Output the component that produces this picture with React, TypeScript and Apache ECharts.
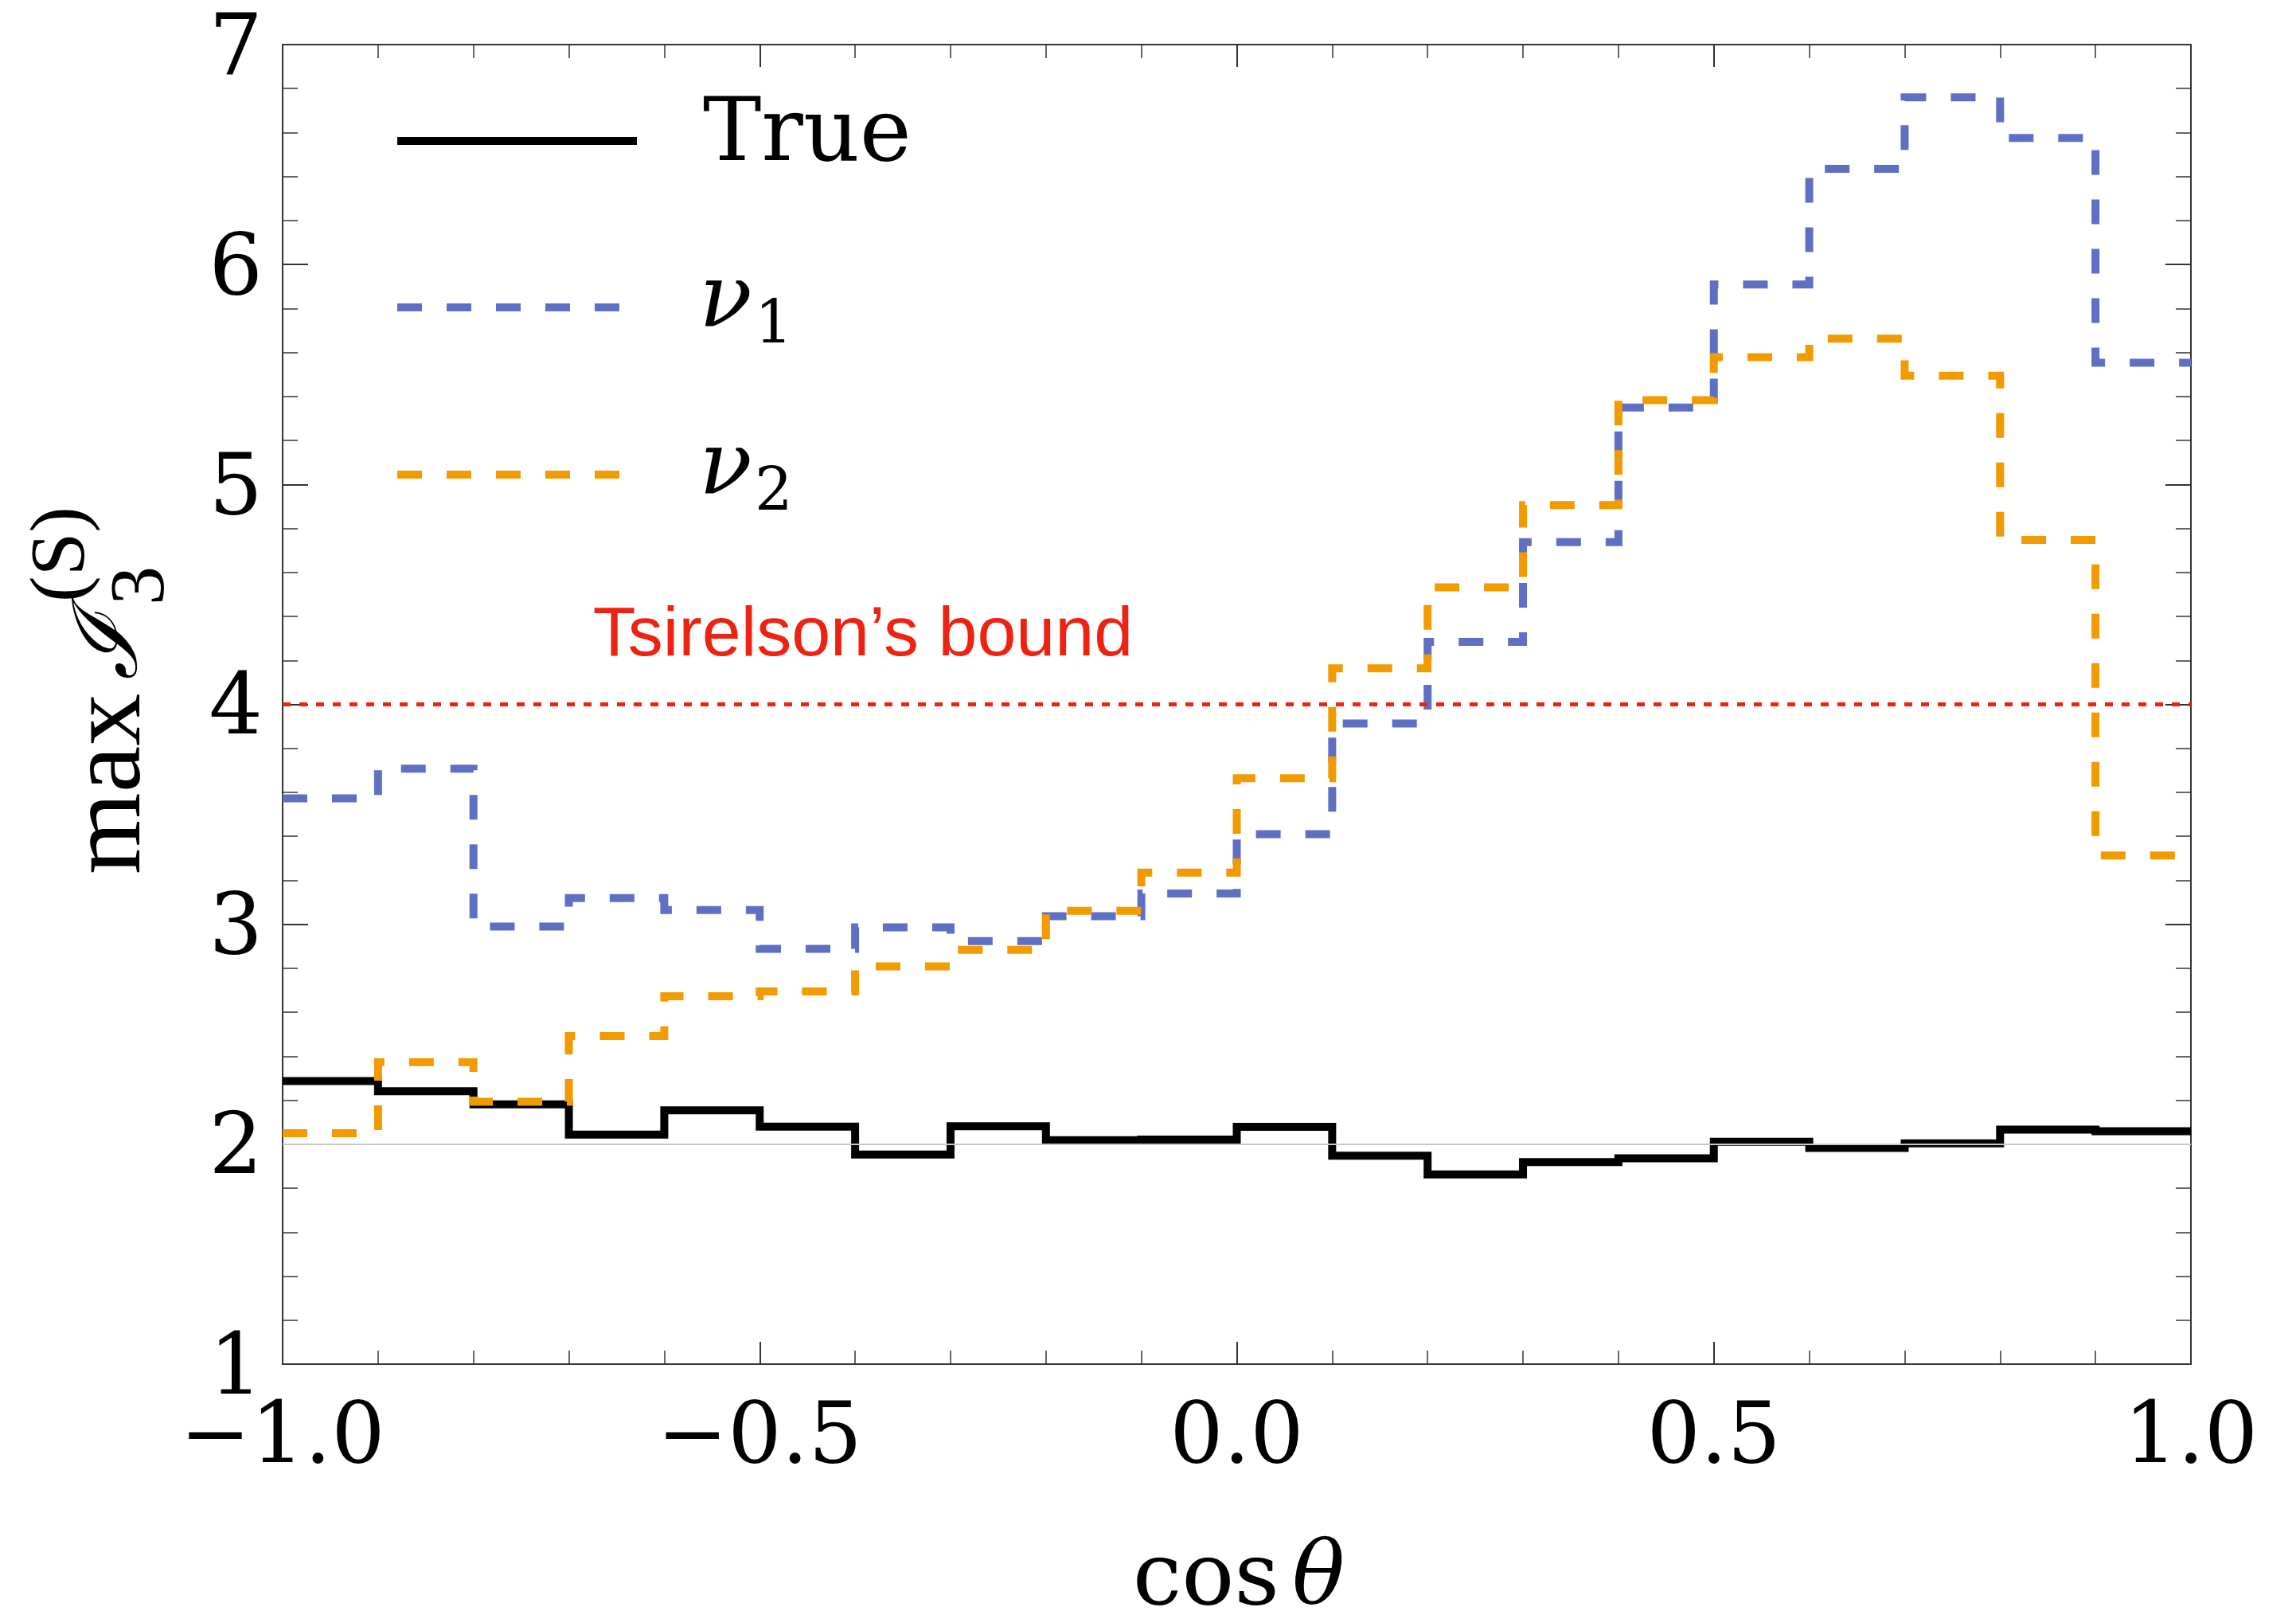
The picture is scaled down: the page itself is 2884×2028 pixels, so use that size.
import React, { useEffect, useRef } from 'react';
import * as echarts from 'echarts';

// ---- data ----
const binEdges = [
  -1.0, -0.9, -0.8, -0.7, -0.6, -0.5, -0.4, -0.3, -0.2, -0.1, 0.0,
  0.1, 0.2, 0.3, 0.4, 0.5, 0.6, 0.7, 0.8, 0.9, 1.0,
];
const trueValues = [
  2.287, 2.241, 2.181, 2.044, 2.154, 2.080, 1.953, 2.082, 2.018, 2.021,
  2.079, 1.948, 1.863, 1.919, 1.936, 2.011, 1.983, 2.004, 2.066, 2.059,
];
const nu1Values = [
  3.573, 3.708, 2.990, 3.119, 3.065, 2.888, 2.986, 2.924, 3.037, 3.140,
  3.410, 3.913, 4.284, 4.738, 5.350, 5.909, 6.435, 6.760, 6.575, 5.553,
];
const nu2Values = [
  2.050, 2.373, 2.193, 2.492, 2.673, 2.695, 2.809, 2.884, 3.061, 3.235,
  3.664, 4.164, 4.532, 4.906, 5.383, 5.579, 5.663, 5.495, 4.748, 3.313,
];
const tsirelsonBound = 4;
const referenceLevel = 2;
const xRange = [-1, 1];
const yRange = [1, 7];

const BLUE = '#5f6fc4';
const ORANGE = '#f29b00';
const RED = '#ee2211';
const FRAME = '#333333';
const SERIF = '"Liberation Serif", "Times New Roman", serif';
const DSERIF = '"DejaVu Serif", serif';

function stepData(values: number[]) {
  return binEdges.map((x, i) => [x, values[Math.min(i, values.length - 1)]]);
}

function fmtX(v: number) {
  return v.toFixed(1).replace('-', '\u2212');
}

function axisCommon(showLabel: boolean, isX: boolean) {
  return {
    axisLine: { show: true, onZero: false, lineStyle: { color: FRAME, width: 2 } },
    axisTick: {
      show: true,
      inside: true,
      length: isX ? 28 : 32,
      lineStyle: { color: FRAME, width: 2 },
    },
    minorTick: {
      show: true,
      splitNumber: 5,
      length: isX ? 17 : 19,
      lineStyle: { color: FRAME, width: 1.5 },
    },
    splitLine: { show: false },
    minorSplitLine: { show: false },
    axisLabel: showLabel
      ? {
          show: true,
          fontFamily: DSERIF,
          fontSize: 106,
          lineHeight: 84,
          color: '#000',
          margin: isX ? 44 : 25,
          showMinLabel: true,
          showMaxLabel: true,
          formatter: isX ? (v: number) => fmtX(v) : (v: number) => String(v),
        }
      : { show: false },
  };
}

export default function App() {
  const ref = useRef<HTMLDivElement>(null);

  useEffect(() => {
    if (!ref.current) return;
    const chart = echarts.init(ref.current, null, { renderer: 'svg' });

    const lineSeries = (name: string, values: number[], color: string, dashed: boolean, z: number) => ({
      name,
      type: 'line',
      step: 'end',
      data: stepData(values),
      symbol: 'none',
      showSymbol: false,
      silent: true,
      z,
      lineStyle: {
        color,
        width: 10,
        type: dashed ? [31, 31] : 'solid',
        cap: 'butt',
        join: 'miter',
      },
      emphasis: { disabled: true },
    });

    const option: any = {
      animation: false,
      backgroundColor: '#ffffff',
      grid: {
        left: 355,
        right: 132,
        top: 56,
        bottom: 315,
        containLabel: false,
        outerBoundsMode: 'none',
      },
      xAxis: [
        {
          type: 'value',
          min: xRange[0],
          max: xRange[1],
          interval: 0.5,
          position: 'bottom',
          ...axisCommon(true, true),
        },
        {
          type: 'value',
          min: xRange[0],
          max: xRange[1],
          interval: 0.5,
          position: 'top',
          ...axisCommon(false, true),
        },
      ],
      yAxis: [
        {
          type: 'value',
          min: yRange[0],
          max: yRange[1],
          interval: 1,
          position: 'left',
          ...axisCommon(true, false),
        },
        {
          type: 'value',
          min: yRange[0],
          max: yRange[1],
          interval: 1,
          position: 'right',
          ...axisCommon(false, false),
        },
      ],
      series: [
        {
          name: 'reference',
          type: 'line',
          data: [],
          z: 1,
          silent: true,
          markLine: {
            silent: true,
            symbol: ['none', 'none'],
            label: { show: false },
            emphasis: { disabled: true },
            data: [
              { yAxis: referenceLevel, lineStyle: { color: '#c8c8c8', width: 2, type: 'solid' } },
            ],
          },
        },
        lineSeries('True', trueValues, '#000000', false, 3),
        lineSeries('ν₁', nu1Values, BLUE, true, 4),
        lineSeries('ν₂', nu2Values, ORANGE, true, 5),
        {
          name: 'Tsirelson',
          type: 'line',
          data: [],
          z: 6,
          silent: true,
          markLine: {
            silent: true,
            symbol: ['none', 'none'],
            label: { show: false },
            emphasis: { disabled: true },
            data: [
              { yAxis: tsirelsonBound, lineStyle: { color: RED, width: 5, type: [10, 11] } },
            ],
          },
        },
      ],
      graphic: [
        // legend
        { type: 'line', z: 100, shape: { x1: 499, y1: 177, x2: 800, y2: 177 }, style: { stroke: '#000', lineWidth: 10 } },
        { type: 'line', z: 100, shape: { x1: 499, y1: 386, x2: 800, y2: 386 }, style: { stroke: BLUE, lineWidth: 10, lineDash: [31, 31] } },
        { type: 'line', z: 100, shape: { x1: 499, y1: 596, x2: 800, y2: 596 }, style: { stroke: ORANGE, lineWidth: 10, lineDash: [31, 31] } },
        { type: 'text', z: 100, x: 883, y: 163, style: { text: 'True', font: `110px ${DSERIF}`, fill: '#000', verticalAlign: 'middle', align: 'left' } },
        { type: 'text', z: 100, x: 878, y: 372, style: { text: 'ν', font: `italic 110px ${DSERIF}`, fill: '#000', verticalAlign: 'middle', align: 'left' } },
        { type: 'text', z: 100, x: 948, y: 404, style: { text: '1', font: `75px ${DSERIF}`, fill: '#000', verticalAlign: 'middle', align: 'left' } },
        { type: 'text', z: 100, x: 878, y: 582, style: { text: 'ν', font: `italic 110px ${DSERIF}`, fill: '#000', verticalAlign: 'middle', align: 'left' } },
        { type: 'text', z: 100, x: 948, y: 614, style: { text: '2', font: `75px ${DSERIF}`, fill: '#000', verticalAlign: 'middle', align: 'left' } },
        // Tsirelson's bound label
        {
          type: 'text', z: 100, x: 1084, y: 792,
          style: { text: 'Tsirelson\u2019s bound', font: '88px "Liberation Sans", Arial, sans-serif', fill: RED, align: 'center', verticalAlign: 'middle' },
        },
        // x axis title
        {
          type: 'text', z: 100, x: 1556, y: 1976,
          style: {
            text: '{c|cos}{t|θ}',
            align: 'center',
            verticalAlign: 'middle',
            rich: {
              c: { fontFamily: DSERIF, fontSize: 110, lineHeight: 88, fill: '#000', color: '#000' },
              t: { fontFamily: DSERIF, fontSize: 110, lineHeight: 88, fontStyle: 'italic', fill: '#000', color: '#000', padding: [0, 0, 0, 16] },
            },
          },
        },
        // y axis title (rotated)
        {
          type: 'group', z: 100, x: 174, y: 1098, rotation: Math.PI / 2,
          children: [
            { type: 'text', z: 100, x: 0, y: -44, style: { text: 'max', font: `132px ${SERIF}`, fill: '#000', align: 'left', verticalAlign: 'middle' } },
            { type: 'text', z: 100, x: 244, y: -42, style: { text: 'ℐ', font: `italic 112px ${DSERIF}`, fill: '#000', align: 'left', verticalAlign: 'middle' } },
            { type: 'text', z: 100, x: 338, y: -2, style: { text: '3', font: `98px ${SERIF}`, fill: '#000', align: 'left', verticalAlign: 'middle' } },
            { type: 'text', z: 100, x: 342, y: -102, style: { text: '(S)', font: `98px ${SERIF}`, fill: '#000', align: 'left', verticalAlign: 'middle' } },
          ],
        },
      ],
    };

    chart.setOption(option);
    return () => chart.dispose();
  }, []);

  return (
    <div
      ref={ref}
      style={{ position: 'absolute', left: 0, top: 0, width: 2884, height: 2028, background: '#fff' }}
    />
  );
}
